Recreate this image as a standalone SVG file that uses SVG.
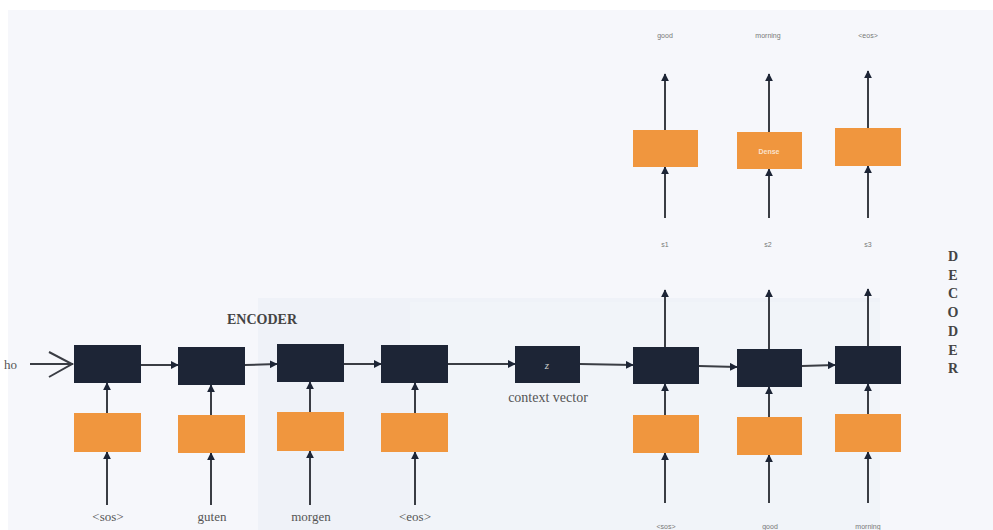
<svg xmlns="http://www.w3.org/2000/svg" width="993" height="530" viewBox="0 0 993 530">
<style>
.cell{fill:#1d2536}
.emb{fill:#f0963e}
.ln{stroke:#3a3d44;stroke-width:2;fill:none}
.up{stroke:#3a3d44;stroke-width:2;fill:none;marker-end:url(#ah)}
.lbl{font-family:"Liberation Serif",serif;font-size:13px;fill:#555;text-anchor:middle}
.tiny{font-family:"Liberation Sans",sans-serif;font-size:7px;fill:#777;text-anchor:middle}
.title{font-family:"Liberation Serif",serif;font-size:14px;font-weight:bold;fill:#444;text-anchor:middle}
</style>
<defs>
<marker id="ah" viewBox="0 0 10 10" refX="9" refY="5" markerWidth="4" markerHeight="4" orient="auto">
<path d="M0,0 L10,5 L0,10 z" fill="#1d2536"/>
</marker>
</defs>
<rect x="0" y="0" width="993" height="530" fill="#ffffff"/>
<rect x="8" y="10" width="985" height="520" fill="#f6f7fb"/>
<rect x="258" y="298" width="622" height="232" fill="#eff2f8"/>
<rect x="410" y="302" width="470" height="228" fill="#f1f4f9"/>

<g id="connectors">
<!-- input chevron -->
<line class="ln" x1="30" y1="364" x2="73" y2="364"/>
<polyline class="ln" points="49,352 72,364 49,377"/>
<!-- encoder horizontal -->
<line class="up" x1="141" y1="365" x2="178" y2="365"/>
<line class="up" x1="245" y1="365" x2="277" y2="364"/>
<line class="up" x1="344" y1="364" x2="381" y2="364"/>
<line class="up" x1="448" y1="364" x2="515" y2="364"/>
<line class="up" x1="580" y1="364" x2="633" y2="365"/>
<line class="up" x1="699" y1="366" x2="737" y2="367"/>
<line class="up" x1="802" y1="366" x2="835" y2="365"/>
<!-- encoder verticals -->
<line class="up" x1="107" y1="505" x2="107" y2="452"/>
<line class="up" x1="107" y1="413" x2="107" y2="383"/>
<line class="up" x1="211" y1="505" x2="211" y2="453"/>
<line class="up" x1="211" y1="415" x2="211" y2="385"/>
<line class="up" x1="310" y1="505" x2="310" y2="451"/>
<line class="up" x1="310" y1="412" x2="310" y2="382"/>
<line class="up" x1="415" y1="505" x2="415" y2="452"/>
<line class="up" x1="415" y1="413" x2="415" y2="383"/>
<!-- decoder verticals lower -->
<line class="up" x1="665" y1="503" x2="665" y2="453"/>
<line class="up" x1="665" y1="415" x2="665" y2="384"/>
<line class="up" x1="665" y1="347" x2="665" y2="290"/>
<line class="up" x1="769" y1="503" x2="769" y2="455"/>
<line class="up" x1="769" y1="417" x2="769" y2="387"/>
<line class="up" x1="769" y1="349" x2="769" y2="290"/>
<line class="up" x1="868" y1="503" x2="868" y2="452"/>
<line class="up" x1="868" y1="414" x2="868" y2="384"/>
<line class="up" x1="868" y1="346" x2="868" y2="289"/>
<!-- decoder verticals upper -->
<line class="up" x1="665" y1="218" x2="665" y2="167"/>
<line class="up" x1="665" y1="130" x2="665" y2="74"/>
<line class="up" x1="769" y1="218" x2="769" y2="169"/>
<line class="up" x1="769" y1="132" x2="769" y2="74"/>
<line class="up" x1="868" y1="218" x2="868" y2="166"/>
<line class="up" x1="868" y1="128" x2="868" y2="71"/>
</g>

<g id="input"><text x="4" y="369" class="lbl" style="text-anchor:start">ho</text></g>

<g id="enc1"><rect class="cell" x="74" y="345" width="67" height="38"/><rect class="emb" x="74" y="413" width="67" height="39"/><text class="lbl" x="108" y="521">&lt;sos&gt;</text></g>
<g id="enc2"><rect class="cell" x="178" y="347" width="67" height="38"/><rect class="emb" x="178" y="415" width="67" height="38"/><text class="lbl" x="212" y="521">guten</text></g>
<g id="enc3"><rect class="cell" x="277" y="344" width="67" height="38"/><rect class="emb" x="277" y="412" width="67" height="39"/><text class="lbl" x="311" y="521">morgen</text></g>
<g id="enc4"><rect class="cell" x="381" y="345" width="67" height="38"/><rect class="emb" x="381" y="413" width="67" height="39"/><text class="lbl" x="415" y="521">&lt;eos&gt;</text></g>
<g id="encoder-label"><text class="title" x="262" y="324">ENCODER</text></g>

<g id="context"><rect class="cell" x="515" y="346" width="65" height="37"/><text x="547" y="369" font-family="Liberation Serif,serif" font-style="italic" font-size="11" fill="#ccc" text-anchor="middle">z</text><text x="548" y="402" font-family="Liberation Serif,serif" font-size="14" fill="#555" text-anchor="middle">context vector</text></g>

<g id="dec1"><rect class="cell" x="633" y="347" width="66" height="37"/><rect class="emb" x="633" y="415" width="66" height="38"/><text class="tiny" x="666" y="529">&lt;sos&gt;</text><text class="tiny" x="665" y="247">s1</text></g>
<g id="dec2"><rect class="cell" x="737" y="349" width="65" height="38"/><rect class="emb" x="737" y="417" width="65" height="38"/><text class="tiny" x="770" y="529">good</text><text class="tiny" x="768" y="247">s2</text></g>
<g id="dec3"><rect class="cell" x="835" y="346" width="66" height="38"/><rect class="emb" x="835" y="414" width="66" height="38"/><text class="tiny" x="868" y="529">morning</text><text class="tiny" x="868" y="247">s3</text></g>

<g id="dense1"><rect class="emb" x="633" y="130" width="65" height="37"/><text class="tiny" x="665" y="38">good</text></g>
<g id="dense2"><rect class="emb" x="737" y="132" width="65" height="37"/><text x="769" y="154" font-family="Liberation Sans,sans-serif" font-size="7" font-weight="bold" fill="#fbe3cc" text-anchor="middle">Dense</text><text class="tiny" x="768" y="38">morning</text></g>
<g id="dense3"><rect class="emb" x="835" y="128" width="66" height="38"/><text class="tiny" x="868" y="38">&lt;eos&gt;</text></g>

<g id="decoder-label" class="title">
<text x="953" y="261">D</text><text x="953" y="280">E</text><text x="953" y="298">C</text><text x="953" y="317">O</text><text x="953" y="336">D</text><text x="953" y="355">E</text><text x="953" y="373">R</text>
</g>
</svg>
